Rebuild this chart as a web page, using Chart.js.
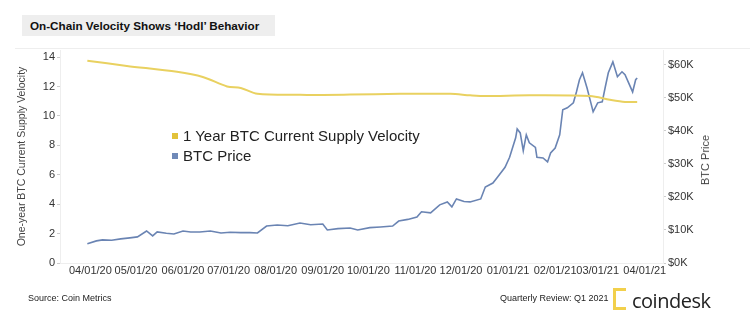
<!DOCTYPE html>
<html>
<head>
<meta charset="utf-8">
<script src="https://cdn.jsdelivr.net/npm/chart.js@4.4.1/dist/chart.umd.min.js"></script>
<style>
  body { margin: 0; background: #fff; font-family: "Liberation Sans", Arial, sans-serif; }
  #wrap { position: relative; width: 750px; height: 322px; overflow: hidden; }
  #chart { position: absolute; left: 0; top: 0; }
  .title {
    position: absolute; left: 22px; top: 15px; padding: 4px 8px; width: 237px; white-space: nowrap;
    background: #eeeeee; font: bold 11.7px "Liberation Sans", Arial, sans-serif; color: #111;
  }
  .rule { position: absolute; left: 15px; right: 0; top: 48px; height: 1px; background: #eee; }
  .legend { position: absolute; left: 172px; top: 126px; font-size: 15px; color: #222; line-height: 20px; }
  .legend span { display: inline-block; width: 6px; height: 6px; margin-right: 5px; vertical-align: 2px; }
  .foot { position: absolute; top: 293px; font: 9px "Liberation Sans Narrow", "Liberation Sans", sans-serif; color: #222; }
  .ytitle {
    position: absolute; left: 705px; top: 160px; font: 11px "Liberation Sans", Arial, sans-serif; color: #444;
    transform: translate(-50%, -50%) rotate(-90deg); white-space: nowrap;
  }
  .logo { position: absolute; left: 613px; top: 287px; font: 20px "Open Sans", sans-serif; color: #222; letter-spacing: -0.5px; }
  .logo i { display: inline-block; width: 10px; height: 16px; border: 3px solid #f2d04b; border-right: none; margin-right: 6px; vertical-align: -2px; }
</style>
</head>
<body>
<div id="wrap">
  <canvas id="chart" width="750" height="322"></canvas>
  <div class="title">On-Chain Velocity Shows ‘Hodl’ Behavior</div>
  <div class="rule"></div>
  <div class="legend">
    <div><span style="background:#e2c23a"></span>1 Year BTC Current Supply Velocity</div>
    <div><span style="background:#6f89b8"></span>BTC Price</div>
  </div>
  <div class="ytitle">BTC Price</div>
  <div class="foot" style="left:28px">Source: Coin Metrics</div>
  <div class="foot" style="left:500px">Quarterly Review: Q1 2021</div>
  <div class="logo"><i></i>coindesk</div>
</div>
<script>
// days counted from 04/01/20
const monthDays = [0, 30, 61, 91, 122, 153, 183, 214, 244, 275, 306, 334, 365];
const monthLabels = ["04/01/20", "05/01/20", "06/01/20", "07/01/20", "08/01/20", "09/01/20",
  "10/01/20", "11/01/20", "12/01/20", "01/01/21", "02/01/21", "03/01/21", "04/01/21"];

const velocityDays = [-2, 24, 57, 74, 90, 99, 110, 138, 171, 204, 237, 250, 260, 289, 329, 342, 352, 360];
const velocityValues = [13.75, 13.4, 13.0, 12.65, 12.0, 11.9, 11.5, 11.43, 11.45, 11.5, 11.5, 11.4,
  11.35, 11.4, 11.35, 11.1, 10.95, 10.95];

const priceDays = [-2, 4, 8, 14, 20, 26, 31, 37, 41, 44, 50, 55, 61, 66, 72, 79, 86, 92, 99, 105, 110,
  116, 123, 130, 138, 145, 153, 156, 163, 171, 176, 184, 191, 199, 203, 209, 215, 218, 224, 230, 235,
  238, 241, 246, 250, 257, 260, 265, 268, 273, 276, 280, 281, 283, 285, 287, 289, 293, 294, 298, 301,
  303, 306, 309, 311, 314, 318, 320, 322, 324, 327, 329, 331, 334, 337, 339, 341, 344, 347, 350, 352,
  357, 359, 360];
const priceValues = [5800, 6700, 7000, 6900, 7300, 7600, 7900, 9700, 8200, 9400, 9000, 8800, 9700,
  9400, 9400, 9700, 9100, 9300, 9200, 9200, 9100, 11200, 11500, 11300, 12100, 11600, 11800, 10000,
  10400, 10600, 10000, 10700, 10900, 11200, 12700, 13200, 13900, 15500, 15200, 17600, 18500, 17000,
  19400, 18600, 18500, 19400, 23000, 24200, 26000, 29000, 32000, 37900, 40600, 39400, 34000, 38800,
  36400, 35000, 32000, 31800, 30600, 33300, 34800, 38800, 46400, 47000, 48500, 51800, 55500, 57600,
  53000, 49400, 45800, 48500, 48800, 53300, 57600, 60900, 56400, 57900, 57000, 51800, 55500, 56000];

const leftTicks = [0, 2, 4, 6, 8, 10, 12, 14];
const rightTicks = [0, 10000, 20000, 30000, 40000, 50000, 60000];

const tickFont = { family: "'Liberation Sans', Arial, sans-serif", size: 11 };
const tickColor = "#333";

new Chart(document.getElementById("chart"), {
  type: "line",
  data: {
    datasets: [
      {
        label: "1 Year BTC Current Supply Velocity",
        data: velocityDays.map((d, i) => ({ x: d, y: velocityValues[i] })),
        borderColor: "#e9d160",
        borderWidth: 2,
        pointRadius: 0,
        tension: 0.3,
        yAxisID: "y",
      },
      {
        label: "BTC Price",
        data: priceDays.map((d, i) => ({ x: d, y: priceValues[i] })),
        borderColor: "#6a84b3",
        borderWidth: 1.6,
        pointRadius: 0,
        tension: 0,
        yAxisID: "y1",
      },
    ],
  },
  options: {
    responsive: false,
    animation: false,
    layout: { padding: { left: 14, right: 27, top: 50, bottom: 39 } },
    plugins: { legend: { display: false }, tooltip: { enabled: false } },
    scales: {
      x: {
        type: "linear",
        min: -20,
        max: 377,
        afterBuildTicks: (s) => { s.ticks = monthDays.map((v) => ({ value: v })); },
        afterFit: (s) => { s.height = 20; },
        ticks: {
          font: tickFont, color: tickColor, maxRotation: 0, autoSkip: false, padding: 1,
          callback: (v) => monthLabels[monthDays.indexOf(v)],
        },
        grid: { display: false, drawTicks: false, tickLength: 0 },
        border: { color: "#eee" },
      },
      y: {
        position: "left",
        min: 0,
        max: 14.48,
        afterBuildTicks: (s) => { s.ticks = leftTicks.map((v) => ({ value: v })); },
        afterFit: (s) => { s.width = 46; },
        ticks: { font: tickFont, color: tickColor, padding: 2 },
        grid: { drawOnChartArea: false, tickLength: 3, color: "#ccc" },
        border: { color: "#eee" },
        title: {
          display: true, text: "One-year BTC Current Supply Velocity",
          font: { family: "'Liberation Sans', Arial, sans-serif", size: 10.5 }, color: "#444", padding: 2,
        },
      },
      y1: {
        position: "right",
        min: 0,
        max: 64500,
        afterBuildTicks: (s) => { s.ticks = rightTicks.map((v) => ({ value: v })); },
        afterFit: (s) => { s.width = 60; },
        ticks: { font: tickFont, color: tickColor, padding: 2, callback: (v) => "$" + v / 1000 + "K" },
        grid: { drawOnChartArea: false, tickLength: 3, color: "#ccc" },
        border: { color: "#eee" },
      },
    },
  },
});
</script>
</body>
</html>
